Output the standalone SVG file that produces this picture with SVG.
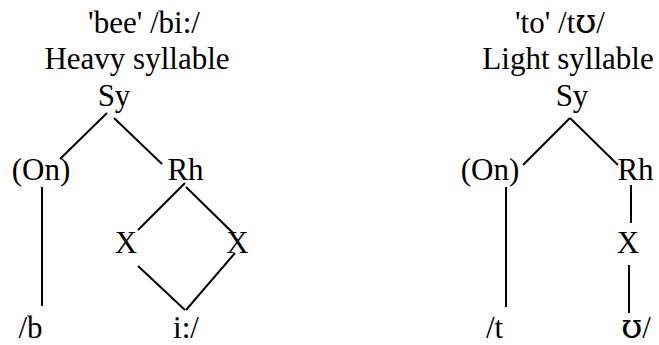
<svg xmlns="http://www.w3.org/2000/svg" width="659" height="345" viewBox="0 0 659 345">
<style>
text{font-family:"Liberation Serif","DejaVu Serif",serif;font-size:31px;fill:#000;text-anchor:middle}
.ipa{font-family:"DejaVu Serif","Liberation Serif",serif;font-size:34px}
.e line{stroke:#000;stroke-width:2;stroke-linecap:butt}
</style>
<rect width="659" height="345" fill="#fff"/>
<g id="title-left"><text x="144" y="33">'bee' /bi:/</text><text x="137" y="69">Heavy syllable</text></g>
<g id="title-right"><text x="560" y="33">'to' /t<tspan class="ipa">ʊ</tspan>/</text><text x="568" y="69">Light syllable</text></g>
<g id="sy1"><text x="114" y="106">Sy</text></g>
<g id="on1"><text x="41" y="180">(On)</text></g>
<g id="rh1"><text x="185.5" y="180">Rh</text></g>
<g id="x1a"><text x="126" y="253">X</text></g>
<g id="x1b"><text x="237.5" y="253">X</text></g>
<g id="b1"><text x="30.5" y="338">/b</text></g>
<g id="i1"><text x="186" y="338">i:/</text></g>
<g id="sy2"><text x="572" y="106">Sy</text></g>
<g id="on2"><text x="490" y="180">(On)</text></g>
<g id="rh2"><text x="635.5" y="180">Rh</text></g>
<g id="x2"><text x="628" y="253">X</text></g>
<g id="t2"><text x="494.5" y="338">/t</text></g>
<g id="u2"><text x="636" y="338"><tspan class="ipa">ʊ</tspan>/</text></g>
<g id="edges" class="e">
<line x1="107" y1="113" x2="60" y2="159"/>
<line x1="114" y1="118" x2="162" y2="164"/>
<line x1="42" y1="187" x2="42" y2="306"/>
<line x1="185" y1="183" x2="138" y2="230"/>
<line x1="186" y1="187" x2="233" y2="233"/>
<line x1="138" y1="266" x2="185" y2="310"/>
<line x1="235" y1="253" x2="186" y2="310"/>
<line x1="570" y1="118" x2="523" y2="165"/>
<line x1="570" y1="118" x2="618" y2="165"/>
<line x1="506" y1="187" x2="506" y2="307"/>
<line x1="631" y1="185" x2="631" y2="223"/>
<line x1="629" y1="265" x2="629" y2="313"/>
</g>
</svg>
